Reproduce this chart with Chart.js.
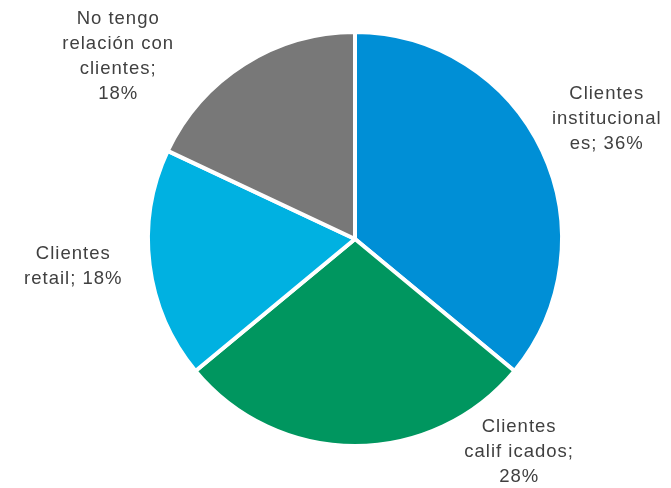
<!DOCTYPE html>
<html>
<head>
<meta charset="utf-8">
<script src="https://cdn.jsdelivr.net/npm/chart.js@4"></script>
<style>
  html, body { margin: 0; padding: 0; background: #fff; }
  #wrap { width: 671px; height: 488px; }
</style>
</head>
<body>
<div id="wrap"><canvas id="pieChart"></canvas></div>
<script>
const categories = ['Clientes institucionales', 'Clientes calificados', 'Clientes retail', 'No tengo relación con clientes']
const shares = [36, 28, 18, 18]
// how each label is broken into lines, as in the original
const labelLines = [
    ['Clientes', 'institucional', 'es; 36%'],
    ['Clientes', 'calif icados;', '28%'],
    ['Clientes', 'retail; 18%'],
    ['No tengo', 'relación con', 'clientes;', '18%']
]

const colors = ['#008FD6', '#00965F', '#00B1E1', '#787878']
// label centres, relative to pie centre, in units of the radius
const labelOffsets = [[1.216, -0.582], [0.793, 1.029], [-1.361, 0.13], [-1.144, -0.88]]

const pieLabels = {
    id: 'pieLabels',
    afterDatasetsDraw(chart) {
        const c = chart.ctx
        const arcs = chart.getDatasetMeta(0).data
        c.save()
        c.fillStyle = '#404040'
        c.font = '18.5px "Liberation Sans", Arial, sans-serif'
        c.letterSpacing = '1px'
        c.textAlign = 'center'
        c.textBaseline = 'middle'
        const lh = 25
        arcs.forEach((arc, i) => {
            const r = arc.outerRadius
            const cx = arc.x + labelOffsets[i][0] * r
            const cy = arc.y + labelOffsets[i][1] * r
            const lines = labelLines[i]
            lines.forEach((t, j) => {
                c.fillText(t, cx, cy + (j - (lines.length - 1) / 2) * lh)
            })
        })
        c.restore()
    }
}

const ctx = document.getElementById('pieChart').getContext('2d')
const myChart = new Chart(ctx, {
    type: 'pie',
    data: {
        labels: categories,
        datasets: [{
            data: shares,
            backgroundColor: colors,
            borderColor: '#ffffff',
            borderWidth: 4
        }]
    },
    options: {
        responsive: true,
        maintainAspectRatio: false,
        animation: false,
        layout: { padding: { top: 30, bottom: 40, left: 146, right: 107 } },
        plugins: {
            legend: { display: false },
            tooltip: { enabled: false }
        }
    },
    plugins: [pieLabels]
});
</script>
</body>
</html>
